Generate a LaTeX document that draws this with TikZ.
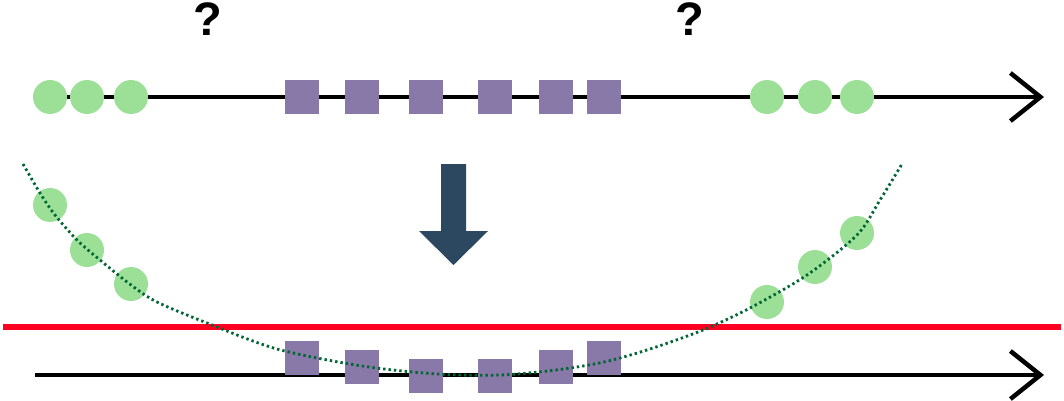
\documentclass[tikz,border=0pt]{standalone}
\usepackage{fontspec}
\setmainfont{Liberation Sans}
\usepackage{xcolor}
\usetikzlibrary{positioning, calc, arrows.meta}

\definecolor{ptgreen}{RGB}{155,224,150}
\definecolor{ptpurple}{RGB}{136,121,168}
\definecolor{curvegreen}{RGB}{0,102,51}
\definecolor{downblue}{RGB}{44,71,96}
\definecolor{cutred}{RGB}{255,0,34}

\begin{document}
\begin{tikzpicture}[x=1pt, y=-1pt]
\tikzstyle{outlier}=[circle, fill=ptgreen, minimum size=34pt, inner sep=0pt]
\tikzstyle{inlier}=[rectangle, fill=ptpurple, minimum size=34pt, inner sep=0pt]
\tikzstyle{axis}=[line width=4.5pt, -{Straight Barb[length=30pt, width=48pt]}]
\tikzstyle{qmark}=[font=\fontsize{47}{47}\selectfont\bfseries, inner sep=0pt]

\useasboundingbox (0,0) rectangle (1064,401);

%% top axis
\coordinate (ta0) at (35,97);
\coordinate (ta1) at (1044,97);
\draw [axis] (ta0) -- (ta1);

\node (q0) at (208,19) [qmark] {?};
\node (q1) at (690,19) [qmark] {?};

\node (to0) at (50,97) [outlier] {};
\node (to1) at (87,97) [outlier] {};
\node (to2) at (131,97) [outlier] {};
\node (to3) at (767,97) [outlier] {};
\node (to4) at (815,97) [outlier] {};
\node (to5) at (857,97) [outlier] {};

\node (ti0) at (302,97) [inlier] {};
\node (ti1) at (362,97) [inlier] {};
\node (ti2) at (426,97) [inlier] {};
\node (ti3) at (495,97) [inlier] {};
\node (ti4) at (556,97) [inlier] {};
\node (ti5) at (604,97) [inlier] {};

%% down arrow
\fill [downblue] (441,164) -- (466,164) -- (466,231) -- (488,231) -- (453.5,265) -- (419,231) -- (441,231) -- cycle;

%% threshold
\coordinate (r0) at (3,327);
\coordinate (r1) at (1061,327);
\draw [cutred, line width=6pt] (r0) -- (r1);

%% bottom axis
\coordinate (ba0) at (35,375);
\coordinate (ba1) at (1044,375);
\draw [axis] (ba0) -- (ba1);

\node (bo0) at (50,205) [outlier] {};
\node (bo1) at (87,250) [outlier] {};
\node (bo2) at (131,284) [outlier] {};
\node (bo3) at (767,302) [outlier] {};
\node (bo4) at (815,267) [outlier] {};
\node (bo5) at (857,233) [outlier] {};

\node (bi0) at (302,358) [inlier] {};
\node (bi1) at (362,367) [inlier] {};
\node (bi2) at (426,375.5) [inlier] {};
\node (bi3) at (495,375.5) [inlier] {};
\node (bi4) at (556,367) [inlier] {};
\node (bi5) at (604,358) [inlier] {};

%% fitted curve
\draw [curvegreen, line width=2.8pt, dash pattern=on 2.4pt off 3pt] plot[smooth] coordinates {(23,164) (40,193) (55,215) (77,240) (100,260) (131,285) (157,302) (207,323) (277,349) (362,366) (437,374) (500,375) (556,370) (604,362) (650,349) (703,330) (750,308) (807,275) (857,235) (880,200) (902,164)};
\end{tikzpicture}
\end{document}
